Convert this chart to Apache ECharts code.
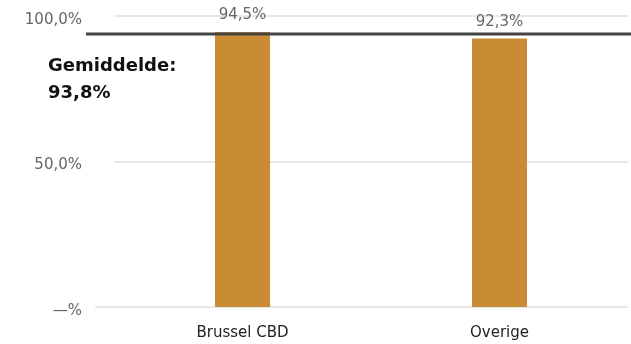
<!DOCTYPE html>
<html>
<head>
<meta charset="utf-8">
<script src="https://cdn.jsdelivr.net/npm/echarts@6/dist/echarts.min.js"></script>
<style>
  html, body { margin: 0; padding: 0; background: #fff; }
  #chart { width: 631px; height: 344px; }
</style>
</head>
<body>
<div id="chart"></div>
<script>
// Occupancy per submarket with the overall average
const categories = ['Brussel CBD', 'Overige'];
const occupancy = [94.5, 92.3];
const averageValue = 93.8;
const averageLabel = ['Gemiddelde:', '93,8%'];
const yTicks = [0, 50, 100];

const FONT = '"DejaVu Sans", "Noto Sans", sans-serif';
const fmtPct = v => v === 0 ? '\u2014%' : v.toFixed(1).replace('.', ',') + '%';

const chart = echarts.init(document.getElementById('chart'));
chart.setOption({
  animation: false,
  grid: { left: 114, right: 3, top: 16, bottom: 37 },
  xAxis: {
    type: 'category',
    data: categories,
    axisTick: { show: false },
    axisLine: { show: false },
    axisLabel: { color: '#222', fontFamily: FONT, fontSize: 15, margin: 19 }
  },
  yAxis: {
    type: 'value',
    min: yTicks[0],
    max: yTicks[yTicks.length - 1],
    interval: yTicks[1] - yTicks[0],
    axisLine: { show: false },
    axisTick: { show: false },
    splitLine: { lineStyle: { color: '#e8e8e8', width: 2 } },
    axisLabel: {
      color: '#666', fontFamily: FONT, fontSize: 15, margin: 32,
      verticalAlign: 'top', lineHeight: 8,
      formatter: fmtPct
    }
  },
  series: [{
    type: 'bar',
    data: occupancy,
    barWidth: 55,
    itemStyle: { color: '#C98B33' },
    label: {
      show: true, position: 'top', distance: 9,
      color: '#666', fontFamily: FONT, fontSize: 15,
      formatter: p => fmtPct(p.value)
    }
  }]
});

// Average line and its caption, placed through the value axis
const yAvg = chart.convertToPixel({ yAxisIndex: 0 }, averageValue);
const yZero = chart.convertToPixel({ yAxisIndex: 0 }, 0);
chart.setOption({
  graphic: [
    {
      type: 'line', z: 10,
      shape: { x1: 95, y1: yZero, x2: 114, y2: yZero },
      style: { stroke: '#e8e8e8', lineWidth: 2 }
    },
    {
      type: 'line', z: 10,
      shape: { x1: 86, y1: yAvg, x2: 631, y2: yAvg },
      style: { stroke: '#444', lineWidth: 3 }
    },
    {
      type: 'text', z: 10, left: 48, top: 53,
      style: {
        text: averageLabel.join('\n'),
        fill: '#111', font: 'bold 18px ' + FONT, lineHeight: 27
      }
    }
  ]
});
</script>
</body>
</html>
